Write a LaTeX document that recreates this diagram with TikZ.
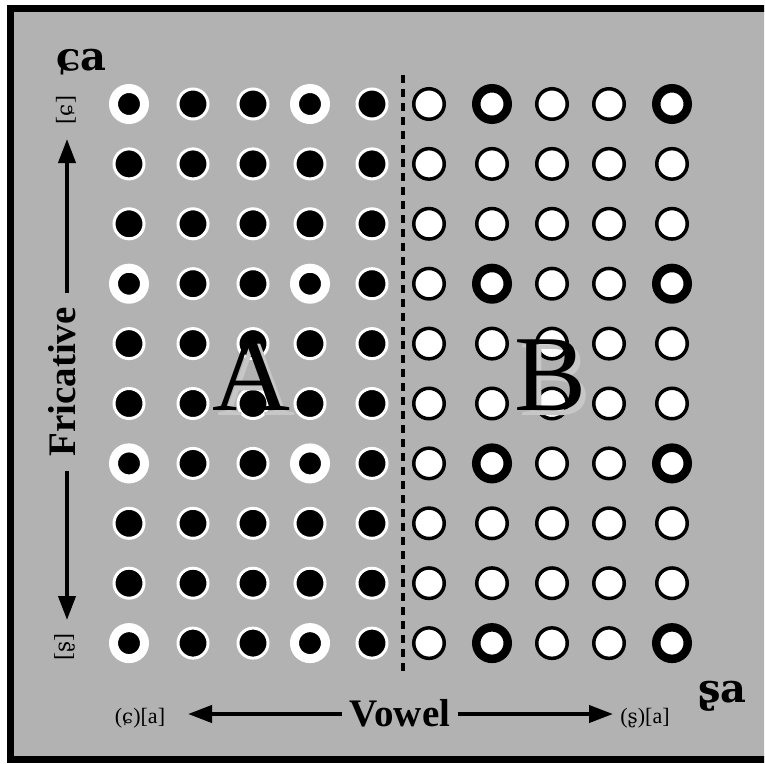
\documentclass[tikz,border=0pt]{standalone}
\usepackage{fontspec}
\setmainfont{Liberation Serif}
\newfontfamily\ipafont[Scale=0.9]{DejaVu Serif}
\newfontfamily\ipabig{DejaVu Serif}
\usetikzlibrary{arrows.meta}
\definecolor{bg}{gray}{0.70}
\definecolor{shade}{gray}{0.78}
\tikzset{
  darkdot/.style={draw=white, fill=black, line width=3pt},
  darkbig/.style={draw=white, fill=black, line width=9pt},
  lightdot/.style={draw=black, fill=white, line width=3.5pt},
  lightbig/.style={draw=black, fill=white, line width=8.5pt},
  arr/.style={line width=4pt, -{Triangle[length=24pt,width=17pt]}},
  axislabel/.style={font=\bfseries\fontsize{39}{39}\selectfont, inner ysep=0pt, outer sep=0pt},
  smalllabel/.style={font=\fontsize{22}{22}\selectfont, inner sep=0pt},
  sidelabel/.style={font=\fontsize{24}{24}\selectfont, inner sep=0pt},
  biglabel/.style={font=\ipabig\bfseries\fontsize{40}{40}\selectfont, inner sep=0pt},
  region/.style={font=\fontsize{108}{108}\selectfont, inner sep=0pt, anchor=base}
}
\begin{document}
\begin{tikzpicture}[x=1pt,y=-1pt]
\useasboundingbox (0,0) rectangle (764,764);
\begin{scope}
  \clip (0,0) rectangle (764,764);
  \fill[white] (0,0) rectangle (764,764);
  \fill[bg] (10.5,8.5) rectangle (800,759);
  \draw[line width=7pt, line join=miter] (800,8.5) -- (10.5,8.5) -- (10.5,759) -- (800,759);
\end{scope}
% dashed divider
\draw[line width=4pt, dash pattern=on 8pt off 6pt] (403,75) -- (403,675);
% grid of dots
\foreach \i in {0,...,9}{
  \pgfmathsetmacro{\yy}{104+59.9*\i}
  \pgfmathtruncatemacro{\m}{mod(\i,3)}
  \foreach \x in {193,253,372}{
    \draw[darkdot] (\x,\yy) circle[radius=15];
  }
  \foreach \x in {429,552,609}{
    \draw[lightdot] (\x,\yy) circle[radius=15.25];
  }
  \foreach \x in {129,310}{
    \ifnum\m=0
      \draw[darkbig] (\x,\yy) circle[radius=15.5];
    \else
      \draw[darkdot] (\x,\yy) circle[radius=15];
    \fi
  }
  \foreach \x in {492,672}{
    \ifnum\m=0
      \draw[lightbig] (\x,\yy) circle[radius=15.75];
    \else
      \draw[lightdot] (\x,\yy) circle[radius=15.25];
    \fi
  }
}
% region letters
\node[region, text=shade] (Ash) at (256.5,415) {A};
\node[region] (A) at (251.5,410) {A};
\node[region, text=shade] (Bsh) at (556,415) {B};
\node[region] (B) at (551,410) {B};
% corner syllables
\node[biglabel, anchor=base] (ca) at (81.5,70) {ɕa};
\node[biglabel, anchor=base] (sa) at (722.5,702) {ʂa};
% end labels
\node[sidelabel, rotate=90] (lc) at (66,110) {[{\ipafont ɕ}]};
\node[sidelabel, rotate=90] (ls) at (65,647) {[{\ipafont ʂ}]};
\node[smalllabel, anchor=base] (vc) at (140,723) {({\ipafont ɕ})[a]};
\node[smalllabel, anchor=base] (vs) at (645,723) {({\ipafont ʂ})[a]};
% axes
\node[axislabel, rotate=90, text height=16pt, text depth=0pt, inner xsep=14pt] (fric) at (67,382) {Fricative};
\coordinate (ft) at (67,139);
\coordinate (fb) at (67,620);
\draw[arr] (fric) -- (ft);
\draw[arr] (fric) -- (fb);
\node[axislabel, text height=24pt, text depth=0pt, inner xsep=8pt] (vowel) at (400,714) {Vowel};
\coordinate (vl) at (188,714);
\coordinate (vr) at (613,714);
\draw[arr] (vowel) -- (vl);
\draw[arr] (vowel) -- (vr);
\end{tikzpicture}
\end{document}
